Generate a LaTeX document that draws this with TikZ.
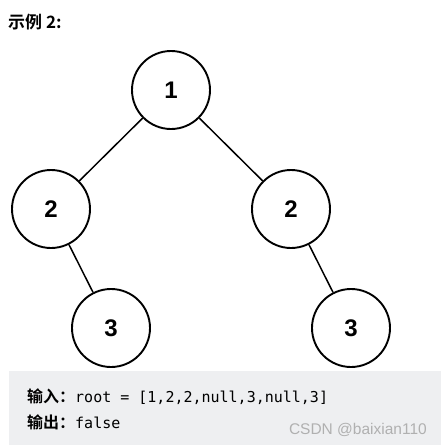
\documentclass[tikz,border=0pt]{standalone}
\usepackage{fontspec}
\setmainfont{Liberation Sans}
\setmonofont{DejaVu Sans Mono}
\newfontfamily\cjk{Noto Sans CJK SC}[BoldFont={Noto Sans CJK SC Bold}]
\definecolor{codebg}{HTML}{EEEFF1}
\definecolor{marktext}{HTML}{B0B0B0}
\tikzset{
  treenode/.style={circle, draw, line width=1.9pt, minimum size=78pt, inner sep=0pt,
    font=\fontsize{24}{24}\selectfont\bfseries},
  edge/.style={line width=1.5pt}
}

\begin{document}
\begin{tikzpicture}[x=1pt,y=1pt]
			\useasboundingbox (0,0) rectangle (441,-445);
			\fill[codebg](9,-371) rectangle (441,-445);
			\node[anchor=west, inner sep=0pt, font=\cjk\bfseries\fontsize{17}{17}\selectfont] (title) at (8,-22) {示例 2:};
			\node[treenode] (root) at (171,-90) {1};
			\node[treenode] (l) at (51,-209) {2};
			\node[treenode] (r) at (291,-209) {2};
			\node[treenode] (lr) at (111,-328) {3};
			\node[treenode] (rr) at (351,-328) {3};
			\draw[edge](root)--(l);
			\draw[edge](root)--(r);
			\draw[edge](l)--(lr);
			\draw[edge](r)--(rr);
			\node[anchor=west, inner sep=0pt] (input) at (27,-397) {{\cjk\bfseries\fontsize{16}{16}\selectfont 输入：}\fontsize{15}{15}\selectfont\ttfamily root = [1,2,2,null,3,null,3]};
			\node[anchor=west, inner sep=0pt] (output) at (27,-422) {{\cjk\bfseries\fontsize{16}{16}\selectfont 输出：}\fontsize{15}{15}\selectfont\ttfamily false};
			\node[anchor=east, inner sep=0pt, text=marktext, font=\fontsize{15.5}{15.5}\selectfont] (mark) at (427,-430) {CSDN @baixian110};
		\end{tikzpicture}
\end{document}
